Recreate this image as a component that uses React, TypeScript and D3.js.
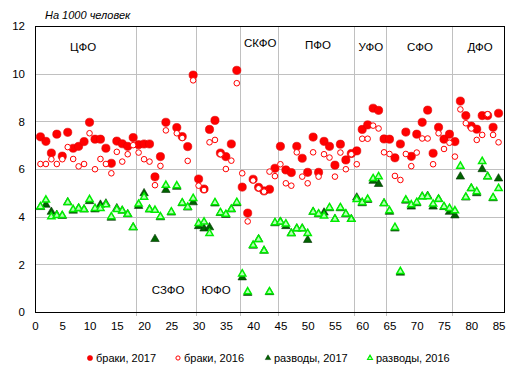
import React, { useEffect, useRef } from "react";
import * as d3 from "d3";

// Region index (1..85) in Rosstat order
const regionCount = 85;

const marriages2017: (number | null)[] = [
  7.35, 7.16, 6.67, 7.46, 6.54, 7.54, 6.87, 6.95, 7.15, 7.96, 7.25, 7.25, 6.87, 6.24, 7.17, 7.06, 6.95, 7.32,
  7.02, 7.05, 7.05, 5.67, 6.52, 7.96, null, 7.74, 7.36, 6.94, 9.94,
  5.58, 5.16, 7.66, 8.04, 6.67, 6.52, 7.05, 10.14,
  5.24, 4.15, 5.57, 5.23, 5.08, 5.15, 6.03,
  6.95, 5.96, 5.85, 6.95, 6.45, 5.86, 7.34, 5.86, 7.16, 6.95, 6.16, 7.04, 6.38, 6.65,
  6.76, 7.66, 7.85, 8.55, 8.46, 7.26,
  7.25, 6.47, 7.05, 7.55, 6.53, 7.46, 7.96, 8.47, 6.66, 7.75, 7.25, 7.46,
  7.15, 8.85, 8.24, 7.8, 7.67, 8.24, 8.24, 7.75, 8.34,
];

const marriages2016: (number | null)[] = [
  6.21, 6.21, 6.41, 6.21, 6.41, 6.92, 6.42, 6.11, 6.21, 7.5, 5.99, 6.42, 6.21, 5.82, 6.72, 6.31, 6.62, 7.0,
  6.69, 6.41, 6.31, 5.32, 6.13, 7.62, null, 7.5, 7.3, 6.34, 9.72,
  5.3, 5.12, 7.12, 7.22, 6.62, 6.0, 6.35, 9.6,
  5.82, 3.8, 5.52, 5.19, 5.05, 5.89, 5.7,
  6.2, 5.4, 5.3, 6.7, 5.68, 5.4, 6.7, 5.68, 6.62, 6.48, 5.68, 6.69, 5.99, 6.62,
  6.2, 7.27, 7.27, 7.82, 7.7, 6.7,
  6.63, 5.71, 5.54, 6.63, 6.12, 6.69, 7.28, 7.28, 6.2, 7.5, 6.84, 7.1,
  6.52, 8.5, 7.92, 7.7, 7.22, 7.43, 8.3, 7.43, 7.12,
];

const divorces2017: (number | null)[] = [
  4.4, 4.5, 4.2, 4.07, 4.03, 4.6, 4.25, 4.35, 4.3, 4.65, 4.3, 4.5, 4.55, 3.95, 4.35, 4.25, 4.1, 3.55,
  4.45, 4.98, 4.3, 3.06, 3.97, 5.12, 4.17, 5.25, 4.56, 4.38, 4.6,
  3.6, 3.5, 3.55, 4.55, 4.15, 4.07, 4.3, 4.56,
  1.45, 0.8, 2.78, 3.05, 2.57, 0.83, 3.72,
  3.78, 3.6, 3.3, 3.5, 3.5, 3.02, 4.2, 4.1, 4.17, 4.35, 3.9, 4.35, 4.1, 3.9,
  4.8, 4.56, 4.7, 5.5, 5.37, 4.56,
  4.2, 3.5, 1.65, 4.67, 4.42, 4.56, 4.84, 4.87, 4.42, 4.73, 4.4, 4.2,
  4.05, 5.68, 4.8, 5.19, 4.98, 5.99, 5.68, 4.77, 5.6,
];

const divorces2016: (number | null)[] = [
  4.42, 4.7, 4.0, 4.05, 4.05, 4.6, 4.3, 4.35, 4.3, 4.72, 4.35, 4.35, 4.5, 4.0, 4.3, 4.25, 4.1, 3.55,
  4.53, 4.82, 4.3, 4.27, 4.0, 5.32, 4.2, 5.3, 4.58, 4.4, 4.77,
  3.72, 3.78, 3.3, 4.59, 4.17, 4.1, 4.31, 4.6,
  1.6, 0.85, 2.8, 3.05, 2.57, 0.85, 3.75,
  3.78, 3.7, 3.3, 3.5, 3.5, 3.3, 4.2, 4.12, 4.03, 4.38, 3.9, 4.38, 4.12, 3.89,
  4.72, 4.6, 4.73, 5.6, 5.68, 4.56,
  4.25, 3.55, 1.7, 4.7, 4.5, 4.6, 4.84, 4.84, 4.53, 4.73, 4.42, 4.35,
  4.25, 6.12, 4.82, 5.19, 5.05, 6.32, 5.68, 4.8, 5.19,
];

const xTicks = [0, 5, 10, 15, 20, 25, 30, 35, 40, 45, 50, 55, 60, 65, 70, 75, 80, 85];
const yTicks = [0, 2, 4, 6, 8, 10, 12];

// District boundaries (between region indices)
const districtBoundaries = [18.5, 29.5, 37.5, 44.5, 58.5, 64.3, 76.5];
// District labels with positions in data units
const districtNames = ["ЦФО", "СЗФО", "ЮФО", "СКФО", "ПФО", "УФО", "СФО", "ДФО"];
const districtLabelX = [8.8, 24.4, 33.2, 41.3, 51.9, 61.6, 70.6, 81.6];
const districtLabelY = [11.1, 0.92, 0.92, 11.29, 11.2, 11.1, 11.1, 11.1];

const legendLabels = ["браки, 2017", "браки, 2016", "разводы, 2017", "разводы, 2016"];

const W = 519;
const H = 375;
const M = { left: 35, right: 504, top: 26, bottom: 312 };
const FONT = "'Liberation Sans', Arial, sans-serif";

export default function App() {
  const ref = useRef<SVGSVGElement>(null);

  useEffect(() => {
    const svg = d3.select(ref.current);
    svg.selectAll("*").remove();

    const x = d3.scaleLinear().domain([0, 86]).range([M.left, M.right]);
    const y = d3.scaleLinear().domain([0, 12]).range([M.bottom, M.top]);

    svg.append("rect").attr("width", W).attr("height", H).attr("fill", "#fff");

    // horizontal grid
    svg.append("g")
      .selectAll("line")
      .data(yTicks.filter((t) => t > 0 && t < 12))
      .join("line")
      .attr("x1", M.left).attr("x2", M.right)
      .attr("y1", (d) => Math.round(y(d)) + 0.5).attr("y2", (d) => Math.round(y(d)) + 0.5)
      .attr("stroke", "#c0c0c0").attr("stroke-width", 1);

    // vertical district lines
    svg.append("g")
      .selectAll("line")
      .data(districtBoundaries)
      .join("line")
      .attr("x1", (d) => Math.round(x(d)) + 0.5).attr("x2", (d) => Math.round(x(d)) + 0.5)
      .attr("y1", M.top).attr("y2", M.bottom + 4)
      .attr("stroke", "#c0c0c0").attr("stroke-width", 1);

    // frame
    svg.append("rect")
      .attr("x", M.left + 0.5).attr("y", M.top + 0.5)
      .attr("width", M.right - M.left).attr("height", M.bottom - M.top)
      .attr("fill", "none").attr("stroke", "#000").attr("stroke-width", 1);

    // axes
    const xAxis = svg.append("g")
      .attr("transform", `translate(0,${M.bottom})`)
      .call(d3.axisBottom(x).tickValues(xTicks).tickSize(0).tickPadding(10).tickFormat(d3.format("d")));
    xAxis.select(".domain").remove();
    xAxis.selectAll("text").attr("font-size", 11.5).attr("font-family", FONT).attr("fill", "#000");

    const yAxis = svg.append("g")
      .attr("transform", `translate(${M.left},0)`)
      .call(d3.axisLeft(y).tickValues(yTicks).tickSize(0).tickPadding(10).tickFormat(d3.format("d")));
    yAxis.select(".domain").remove();
    yAxis.selectAll("text").attr("font-size", 11.5).attr("font-family", FONT).attr("fill", "#000");

    // title
    svg.append("text")
      .attr("x", 45).attr("y", 19)
      .attr("font-size", 11).attr("font-style", "italic").attr("font-family", FONT)
      .text("На 1000 человек");

    // district labels
    svg.append("g")
      .selectAll("text")
      .data(districtNames)
      .join("text")
      .attr("x", (_d, i) => x(districtLabelX[i]))
      .attr("y", (_d, i) => y(districtLabelY[i]))
      .attr("dy", "0.35em")
      .attr("text-anchor", "middle")
      .attr("font-size", 11.5).attr("font-family", FONT)
      .text((d) => d);

    const idx = d3.range(1, regionCount + 1);
    const pts = (arr: (number | null)[]) =>
      idx.map((i) => ({ i, v: arr[i - 1] })).filter((p) => p.v != null) as { i: number; v: number }[];

    const tri = (side: number) => d3.symbol(d3.symbolTriangle, (side * side * Math.sqrt(3)) / 4)();

    const plot = svg.append("g");
    // marriages 2017
    plot.append("g").selectAll("circle").data(pts(marriages2017)).join("circle")
      .attr("cx", (d) => x(d.i)).attr("cy", (d) => y(d.v)).attr("r", 4.1)
      .attr("fill", "#ff0000").attr("stroke", "#e00000").attr("stroke-width", 0.6);
    // marriages 2016
    plot.append("g").selectAll("circle").data(pts(marriages2016)).join("circle")
      .attr("cx", (d) => x(d.i)).attr("cy", (d) => y(d.v)).attr("r", 2.8)
      .attr("fill", "#fff").attr("stroke", "#ff0000").attr("stroke-width", 1);
    // divorces 2017
    plot.append("g").selectAll("path").data(pts(divorces2017)).join("path")
      .attr("d", tri(8.5))
      .attr("transform", (d) => `translate(${x(d.i)},${y(d.v)})`)
      .attr("fill", "#006400").attr("stroke", "#003300").attr("stroke-width", 0.6);
    // divorces 2016
    plot.append("g").selectAll("path").data(pts(divorces2016)).join("path")
      .attr("d", tri(7.2))
      .attr("transform", (d) => `translate(${x(d.i)},${y(d.v)})`)
      .attr("fill", "#b8ffb8").attr("stroke", "#00ee00").attr("stroke-width", 1.5);

    // legend
    const legendMarkerX = [90, 178, 268, 370];
    const lg = svg.append("g");
    legendLabels.forEach((label, k) => {
      const mx = legendMarkerX[k];
      const my = 358;
      if (k === 0) lg.append("circle").attr("cx", mx).attr("cy", my).attr("r", 2.6).attr("fill", "#ff0000").attr("stroke", "#e00000").attr("stroke-width", 0.5);
      if (k === 1) lg.append("circle").attr("cx", mx).attr("cy", my).attr("r", 2.1).attr("fill", "#fff").attr("stroke", "#ff0000").attr("stroke-width", 1);
      if (k === 2) lg.append("path").attr("d", tri(5.5)).attr("transform", `translate(${mx},${my})`).attr("fill", "#006400").attr("stroke", "#003300").attr("stroke-width", 0.5);
      if (k === 3) lg.append("path").attr("d", tri(5)).attr("transform", `translate(${mx},${my})`).attr("fill", "#b8ffb8").attr("stroke", "#00ee00").attr("stroke-width", 1.1);
      lg.append("text")
        .attr("x", mx + 6).attr("y", my).attr("dy", "0.35em")
        .attr("font-size", 11).attr("font-family", FONT)
        .text(label);
    });
  }, []);

  return (
    <svg
      ref={ref}
      width={W}
      height={H}
      style={{ position: "absolute", left: 0, top: 0, display: "block" }}
    />
  );
}
